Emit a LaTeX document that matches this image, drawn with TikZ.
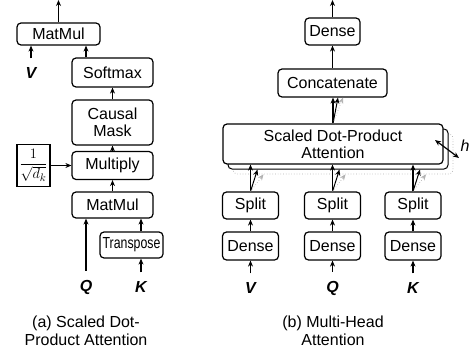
\documentclass[tikz,border=0pt]{standalone}
\usepackage{fontspec}
\setmainfont{Liberation Sans}
\usepackage{amsmath}
\usetikzlibrary{arrows.meta}

\begin{document}
\begin{tikzpicture}[
            x=1pt,y=-1pt,
            op/.style={draw,line width=1.2pt,rounded corners=4pt,fill=white,inner sep=0pt,
                align=center,font=\fontsize{16}{17}\selectfont},
            arc/.style={line width=1.2pt,-{Stealth[length=6pt,width=5pt]}},
            ghostline/.style={draw=gray!60,line width=0.7pt,dotted},
            inlabel/.style={inner sep=0pt,font=\fontsize{16}{18}\selectfont\bfseries\itshape},
            caption/.style={align=center,font=\fontsize{16}{18}\selectfont}
        ]
            \useasboundingbox (0,0) rectangle (471,353);

            % (a) scaled dot-product attention
            \node[op,minimum width=83pt,minimum height=22pt] (mmout) at (58.5,34) {MatMul};
            \node[op,minimum width=81pt,minimum height=29pt] (softmax) at (112.5,72.5) {Softmax};
            \node[op,minimum width=81pt,minimum height=45pt] (mask) at (112.5,122.5) {Causal\\Mask};
            \node[op,minimum width=81pt,minimum height=28pt] (mult) at (112.5,165.5) {Multiply};
            \node[draw,line width=1.2pt,minimum width=33pt,minimum height=42pt,inner sep=0pt,
                font=\fontsize{15.5}{17}\selectfont] (scale) at (33.5,165.5) {$\displaystyle\frac{1}{\sqrt{d_k}}$};
            \node[op,minimum width=81pt,minimum height=26pt] (mmin) at (112.5,205) {MatMul};
            \node[op,minimum width=63pt,minimum height=26pt] (transp) at (131.5,245) {\scalebox{0.77}[1]{Transpose}};

            \node[inlabel] (V) at (31,73) {V};
            \node[inlabel] (Q) at (86,287) {Q};
            \node[inlabel] (K) at (141,287) {K};
            \coordinate (outA) at (58.5,0);

            \draw[arc,shorten <=9pt] (V) -- (V |- mmout.south);
            \draw[arc,shorten <=9pt] (Q) -- (Q |- mmin.south);
            \draw[arc] (Q |- softmax.north) -- (Q |- mmout.south);
            \draw[arc,shorten <=9pt] (K) -- (K |- transp.south);
            \draw[arc] (K |- transp.north) -- (K |- mmin.south);
            \draw[arc] (mmin) -- (mult);
            \draw[arc] (mult) -- (mask);
            \draw[arc] (mask) -- (softmax);
            \draw[arc] (scale.east) -- (mult.west);
            \draw[arc] (mmout.north) -- (outA);

            % (b) multi-head attention
            \node[op,minimum width=55pt,minimum height=27pt] (denseout) at (332.5,31.5) {Dense};
            \node[op,minimum width=109pt,minimum height=28pt] (concat) at (332.5,83) {Concatenate};
            \node[op,ghostline,fill=white,minimum width=220pt,minimum height=40pt] (headC) at (343,154) {};
            \node[op,fill=white,line width=1pt,minimum width=220pt,minimum height=40pt] (headB) at (338,149) {};
            \node[op,minimum width=220pt,minimum height=40pt] (headA) at (333,144) {Scaled Dot-Product\\Attention};
            \coordinate (outB) at (332.5,0);

            \foreach \col/\x/\lab in {v/250.5/V,q/332.5/Q,k/413/K} {
                \node[op,minimum width=56pt,minimum height=27pt] (split\col) at (\x,205.5) {Split};
                \node[op,minimum width=56pt,minimum height=28pt] (dense\col) at (\x,246) {Dense};
                \node[inlabel] (in\col) at (\x,288) {\lab};
                \draw[arc,shorten <=9pt] (in\col) -- (dense\col);
                \draw[arc] (dense\col) -- (split\col);
                \draw[arc] (split\col.north) -- (split\col.north |- headA.south);
                \draw[arc,line width=1pt] (split\col.north) -- ([xshift=7pt]split\col.north |- headB.south);
                \draw[arc,ghostline] (split\col.north) -- ([xshift=13pt]split\col.north |- headC.south);
            }

            \draw[arc] (headA.north) -- (headA.north |- concat.south);
            \draw[arc,line width=1pt] (headA.north) -- ([xshift=5pt]headA.north |- concat.south);
            \draw[arc,ghostline] (headA.north) -- ([xshift=10pt]headA.north |- concat.south);
            \draw[arc] (concat) -- (denseout);
            \draw[arc] (denseout.north) -- (outB);

            % number of heads
            \coordinate (hA) at (435,140);
            \coordinate (hB) at (459,158);
            \draw[line width=1.2pt,{Stealth[length=6pt,width=5pt]}-{Stealth[length=6pt,width=5pt]}] (hA) -- (hB);
            \node[font=\fontsize{16}{18}\selectfont\itshape] (h) at (465,146) {h};

            % captions
            \node[caption] (capA) at (86,331) {(a) Scaled Dot-\\Product Attention};
            \node[caption] (capB) at (333,331) {(b) Multi-Head\\Attention};
        \end{tikzpicture}
\end{document}
